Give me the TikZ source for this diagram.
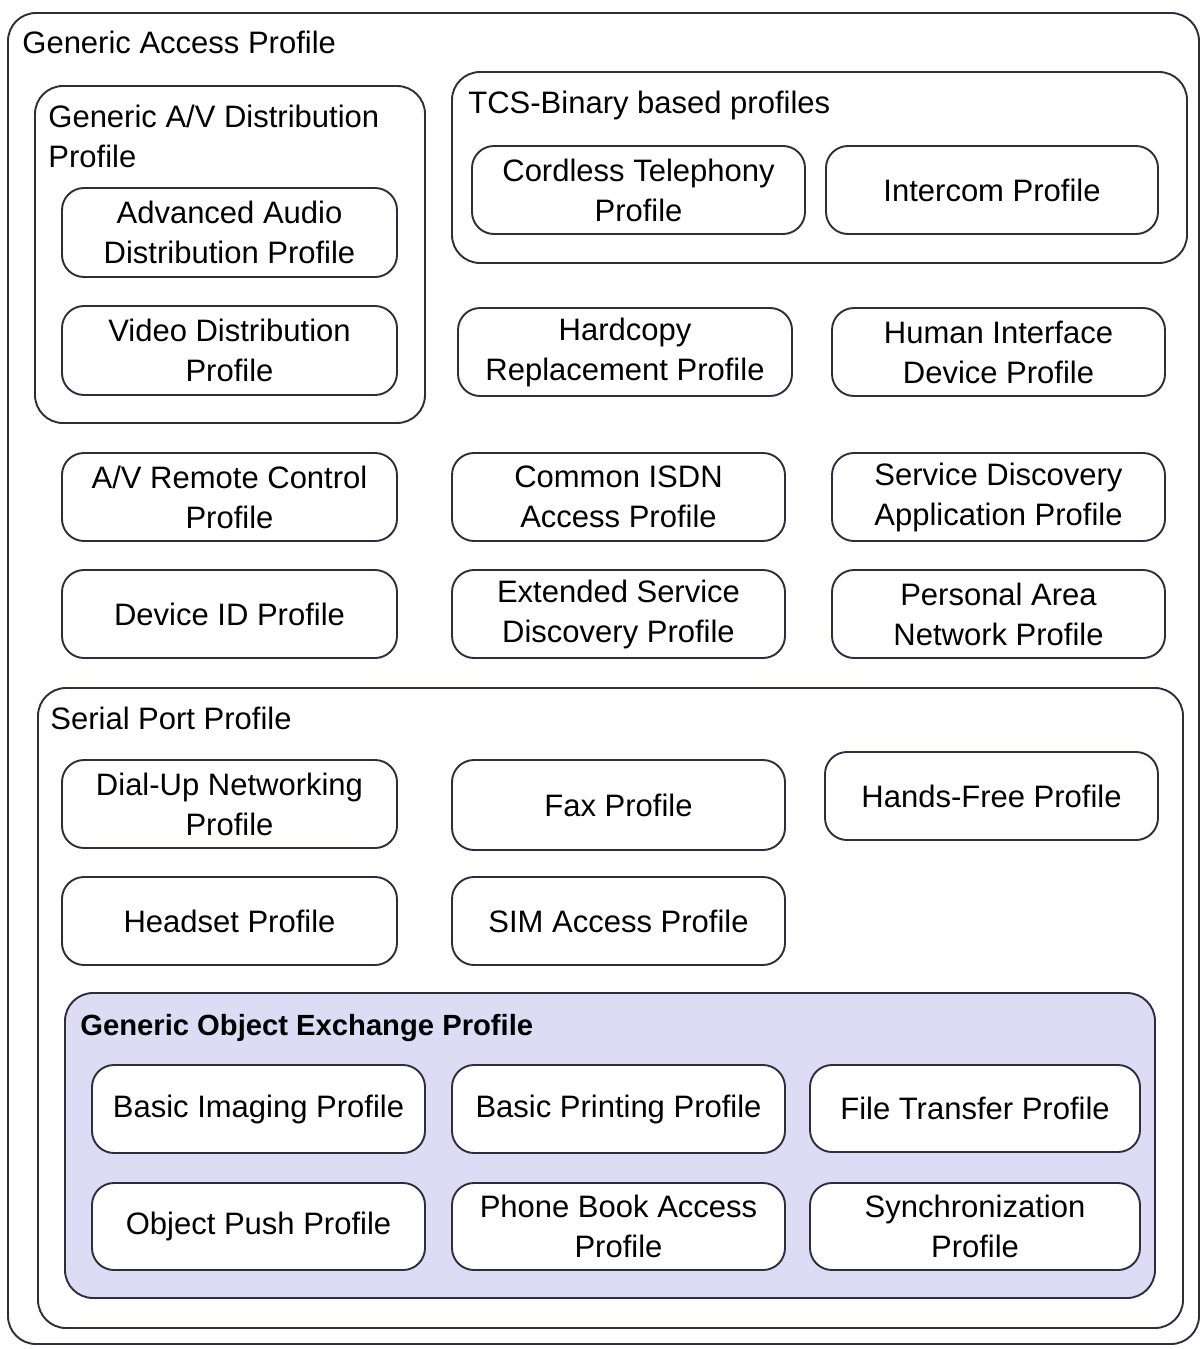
\documentclass[tikz,border=0pt]{standalone}
\usepackage{fontspec}
\setmainfont{Liberation Sans}
\definecolor{edgegray}{RGB}{48,44,62}
\definecolor{goepfill}{RGB}{222,220,245}
\tikzset{
  pbox/.style={draw=edgegray, line width=0.95pt, rounded corners=11pt,
    inner sep=0pt, align=center, fill=white,
    font=\fontsize{15.5}{20}\selectfont},
  group/.style={draw=edgegray, line width=0.95pt, rounded corners=14pt, inner sep=0pt, fill=none},
  grouptitle/.style={inner sep=0pt, align=left, font=\fontsize{15.5}{20}\selectfont}
}
% box from corner (x1,y1) to corner (x2,y2), in the picture's pixel units
\newcommand\spanbox[7][]{%
  \pgfmathsetmacro\bcx{(#3+#5)/2}%
  \pgfmathsetmacro\bcy{(#4+#6)/2}%
  \pgfmathsetmacro\bw{(#5-#3)*0.5}%
  \pgfmathsetmacro\bh{(#6-#4)*0.5}%
  \node[#1, minimum width=\bw pt, minimum height=\bh pt] (#2) at (\bcx,\bcy) {#7};%
}
\begin{document}
\begin{tikzpicture}[x=0.5pt, y=-0.5pt]
\useasboundingbox (0,0) rectangle (1202,1349);

% Generic Access Profile (outermost)
\spanbox[group]{gap}{8}{13}{1199}{1344}{}
\node[grouptitle, anchor=base west] (gaptitle) at (22,53) {Generic Access Profile};

% Generic A/V Distribution Profile
\spanbox[group]{gavdp}{35}{86}{425}{423}{}
\node[grouptitle, anchor=north west] (gavdptitle) at (48,105) {Generic A/V Distribution\\Profile};
\spanbox[pbox]{a2dp}{62}{188}{397}{277}{Advanced Audio\\Distribution Profile}
\spanbox[pbox]{vdp}{62}{306}{397}{395}{Video Distribution\\Profile}

% TCS-Binary based profiles
\spanbox[group]{tcs}{452}{72}{1187}{263}{}
\node[grouptitle, anchor=base west] (tcstitle) at (468,113) {TCS-Binary based profiles};
\spanbox[pbox]{ctp}{472}{146}{805}{234}{Cordless Telephony\\Profile}
\spanbox[pbox]{icp}{826}{146}{1158}{234}{Intercom Profile}

% Stand-alone profiles
\spanbox[pbox]{hcrp}{458}{308}{792}{396}{Hardcopy\\Replacement Profile}
\spanbox[pbox]{hid}{832}{308}{1165}{396}{Human Interface\\Device Profile}
\spanbox[pbox]{avrcp}{62}{453}{397}{541}{A/V Remote Control\\Profile}
\spanbox[pbox]{cip}{452}{453}{785}{541}{Common ISDN\\Access Profile}
\spanbox[pbox]{sdap}{832}{453}{1165}{541}{Service Discovery\\Application Profile}
\spanbox[pbox]{did}{62}{570}{397}{658}{Device ID Profile}
\spanbox[pbox]{esdp}{452}{570}{785}{658}{Extended Service\\Discovery Profile}
\spanbox[pbox]{pan}{832}{570}{1165}{658}{Personal Area\\Network Profile}

% Serial Port Profile
\spanbox[group]{spp}{38}{688}{1183}{1328}{}
\node[grouptitle, anchor=base west] (spptitle) at (50,729) {Serial Port Profile};
\spanbox[pbox]{dun}{62}{760}{397}{848}{Dial-Up Networking\\Profile}
\spanbox[pbox]{fax}{452}{760}{785}{850}{Fax Profile}
\spanbox[pbox]{hfp}{825}{752}{1158}{840}{Hands-Free Profile}
\spanbox[pbox]{hsp}{62}{877}{397}{965}{Headset Profile}
\spanbox[pbox]{sap}{452}{877}{785}{965}{SIM Access Profile}

% Generic Object Exchange Profile
\spanbox[group, fill=goepfill]{goep}{65}{993}{1155}{1298}{}
\node[grouptitle, anchor=base west, font=\bfseries\fontsize{14.6}{20}\selectfont] (goeptitle) at (80,1035) {Generic Object Exchange Profile};
\spanbox[pbox]{bip}{92}{1065}{425}{1153}{Basic Imaging Profile}
\spanbox[pbox]{bpp}{452}{1065}{785}{1153}{Basic Printing Profile}
\spanbox[pbox]{ftp}{810}{1065}{1140}{1152}{File Transfer Profile}
\spanbox[pbox]{opp}{92}{1183}{425}{1270}{Object Push Profile}
\spanbox[pbox]{pbap}{452}{1183}{785}{1270}{Phone Book Access\\Profile}
\spanbox[pbox]{sync}{810}{1183}{1140}{1270}{Synchronization\\Profile}
\end{tikzpicture}
\end{document}
